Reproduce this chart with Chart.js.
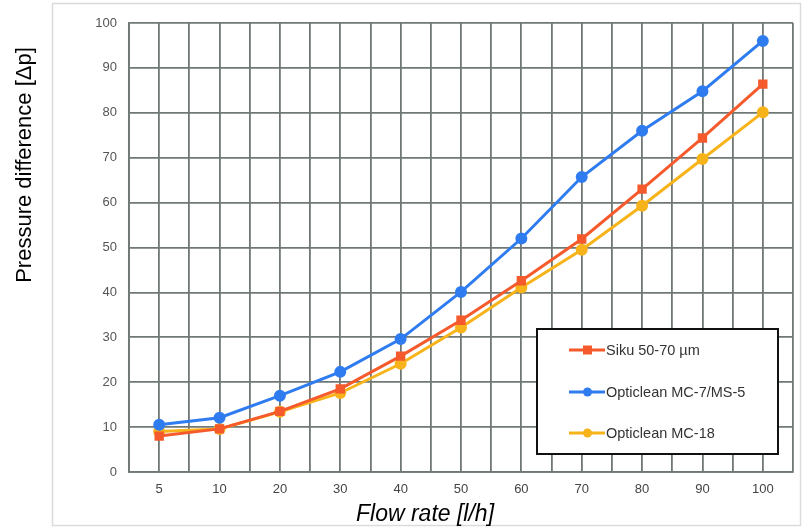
<!DOCTYPE html>
<html><head><meta charset="utf-8">
<script src="https://cdn.jsdelivr.net/npm/chart.js@4.4.0/dist/chart.umd.min.js"></script>
<style>html,body{margin:0;padding:0;background:#fff}#wrap{width:805px;height:531px;position:relative}</style>
</head><body><div id="wrap"><canvas id="c" width="805" height="531"></canvas></div>
<script>
const categories = ['5','10','20','30','40','50','60','70','80','90','100'];
const sikuValues = [8.0, 9.6, 13.5, 18.5, 25.8, 33.8, 42.6, 51.9, 63.0, 74.4, 86.4];
const mc7Values  = [10.5, 12.1, 17.0, 22.3, 29.6, 40.1, 52.0, 65.7, 76.0, 84.8, 96.0];
const mc18Values = [9.0, 9.6, 13.4, 17.6, 24.1, 32.2, 41.1, 49.5, 59.3, 69.7, 80.1];
const seriesLabels = ['Siku 50-70 µm', 'Opticlean MC-7/MS-5', 'Opticlean MC-18'];
const yTicks = [0,10,20,30,40,50,60,70,80,90,100];
const xTitle = 'Flow rate [l/h]';
const yTitle = 'Pressure difference [Δp]';

const toPts = arr => arr.map((v,i)=>({x:i,y:v}));
const gridColor = '#6f7875';
const FONT = '"Liberation Sans", Arial, sans-serif';

const frame = {
  id:'frame',
  beforeDraw(chart){
    const ctx = chart.ctx;
    ctx.save();
    ctx.fillStyle='#fff'; ctx.fillRect(0,0,chart.width,chart.height);
    ctx.strokeStyle='#d9dcdc'; ctx.lineWidth=1.5;
    ctx.strokeRect(52.5,3.5,748,522);
    ctx.restore();
  },
  afterDraw(chart){
    const ctx = chart.ctx;
    ctx.save();
    ctx.fillStyle='#000'; ctx.textAlign='center'; ctx.textBaseline='middle';
    ctx.font='italic 23px '+FONT;
    ctx.fillText(xTitle,425,515);
    ctx.translate(25,165); ctx.rotate(-Math.PI/2);
    ctx.font='22px '+FONT;
    ctx.fillText(yTitle,0,0);
    ctx.restore();
  }
};
const legendBox = {
  id:'legendBox',
  afterDatasetsDraw(chart){
    const ctx = chart.ctx;
    ctx.save();
    ctx.fillStyle='#fff';
    ctx.fillRect(537,329,241,125);
    ctx.strokeStyle='#111'; ctx.lineWidth=2;
    ctx.strokeRect(537,329,241,125);
    const ys=[350,392,433];
    chart.data.datasets.forEach((ds,i)=>{
      const y=ys[i];
      ctx.strokeStyle=ds.borderColor; ctx.lineWidth=3;
      ctx.beginPath(); ctx.moveTo(569,y); ctx.lineTo(605,y); ctx.stroke();
      ctx.fillStyle=ds.borderColor;
      if(ds.pointStyle==='rect'){ ctx.fillRect(583,y-4.5,9,9); }
      else { ctx.beginPath(); ctx.arc(587.5,y,4.5,0,Math.PI*2); ctx.fill(); }
      ctx.fillStyle='#333'; ctx.font='14.5px '+FONT; ctx.textBaseline='middle'; ctx.textAlign='left';
      ctx.fillText(ds.label,606,y+1);
    });
    ctx.restore();
  }
};

new Chart(document.getElementById('c'),{
  type:'line',
  data:{datasets:[
    {label:seriesLabels[0],data:toPts(sikuValues),borderColor:'#f55a2c',backgroundColor:'#f55a2c',borderWidth:3,pointStyle:'rect',pointRadius:4.5,pointHoverRadius:4.5,tension:0},
    {label:seriesLabels[1],data:toPts(mc7Values),borderColor:'#2f7cf0',backgroundColor:'#2f7cf0',borderWidth:3,pointStyle:'circle',pointRadius:4.5,pointHoverRadius:4.5,tension:0},
    {label:seriesLabels[2],data:toPts(mc18Values),borderColor:'#f7b31a',backgroundColor:'#f7b31a',borderWidth:3,pointStyle:'circle',pointRadius:4.5,pointHoverRadius:4.5,tension:0}
  ]},
  options:{
    responsive:false,animation:false,
    layout:{padding:{left:0,right:12,top:23,bottom:0}},
    plugins:{legend:{display:false},tooltip:{enabled:false}},
    scales:{
      x:{type:'linear',min:-0.5,max:10.5,
        afterBuildTicks(s){ const t=[]; for(let v=-0.5; v<=10.5001; v+=0.5) t.push({value:Math.round(v*2)/2}); s.ticks=t; },
        afterFit(s){ s.height=59; },
        ticks:{autoSkip:false,maxRotation:0,padding:10,color:'#444',font:{family:FONT,size:13},
          callback(v){ return Number.isInteger(v) && v>=0 && v<categories.length ? categories[v] : ''; }},
        grid:{color:gridColor,lineWidth:1.8,drawTicks:false},
        border:{color:gridColor,width:1.8}
      },
      y:{min:0,max:100,
        afterBuildTicks(s){ s.ticks=yTicks.map(v=>({value:v})); },
        afterFit(s){ s.width=129; },
        ticks:{padding:12,color:'#555',font:{family:FONT,size:13}},
        grid:{color:gridColor,lineWidth:1.8,drawTicks:false},
        border:{color:gridColor,width:1.8}
      }
    }
  },
  plugins:[frame,legendBox]
});
</script></body></html>
